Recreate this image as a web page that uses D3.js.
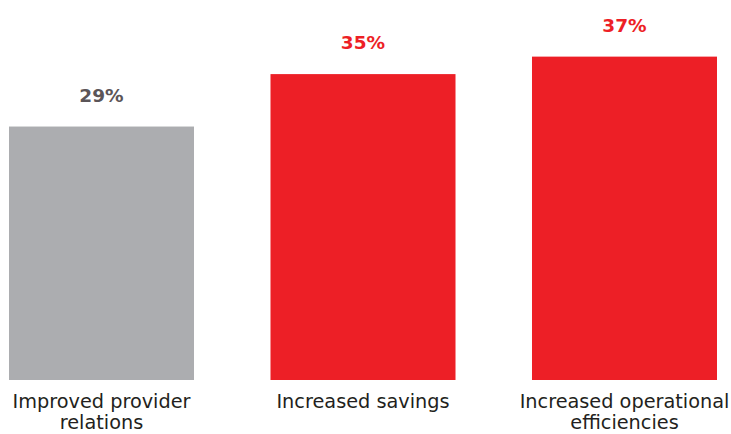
<!DOCTYPE html>
<html>
<head>
<meta charset="utf-8">
<script src="https://cdn.jsdelivr.net/npm/d3@7"></script>
<style>
  html, body { margin: 0; padding: 0; background: #ffffff; }
  svg { display: block; }
</style>
</head>
<body>
<svg id="chart" width="731" height="434"></svg>
<script>
// Chart data
const categories = [
  ["Improved provider", "relations"],
  ["Increased savings"],
  ["Increased operational", "efficiencies"]
];
const values = [29, 35, 37];
const valueLabels = ["29%", "35%", "37%"];
const barColors = ["#acadb0", "#ed1f26", "#ed1f26"];
const labelColors = ["#5b5558", "#ed1f26", "#ed1f26"];

const svg = d3.select("#chart");
const baseline = 380;

const x = d3.scaleBand()
  .domain(d3.range(values.length))
  .range([9, 717])
  .paddingInner(0.2925)
  .paddingOuter(0);

const y = d3.scaleLinear()
  .domain([0, 40])
  .range([baseline, 30.4]);

// Bars
svg.append("g")
  .selectAll("rect")
  .data(values)
  .join("rect")
  .attr("x", (d, i) => x(i))
  .attr("y", d => y(d))
  .attr("width", x.bandwidth())
  .attr("height", d => y(0) - y(d))
  .attr("fill", (d, i) => barColors[i]);

// Value labels above bars
svg.append("g")
  .selectAll("text")
  .data(values)
  .join("text")
  .attr("x", (d, i) => x(i) + x.bandwidth() / 2)
  .attr("y", d => y(d) - 25)
  .attr("text-anchor", "middle")
  .attr("font-family", "'DejaVu Sans', sans-serif")
  .attr("font-weight", 700)
  .attr("font-size", 18.5)
  .attr("fill", (d, i) => labelColors[i])
  .text((d, i) => valueLabels[i]);

// Category labels below bars
const cat = svg.append("g")
  .selectAll("text")
  .data(categories)
  .join("text")
  .attr("x", (d, i) => x(i) + x.bandwidth() / 2)
  .attr("y", 408)
  .attr("text-anchor", "middle")
  .attr("font-family", "'DejaVu Sans', sans-serif")
  .attr("font-size", 19.3)
  .attr("fill", "#231f20");

cat.selectAll("tspan")
  .data(d => d)
  .join("tspan")
  .attr("x", function () { return d3.select(this.parentNode).attr("x"); })
  .attr("dy", (d, i) => i === 0 ? 0 : 21)
  .text(d => d);
</script>
</body>
</html>
